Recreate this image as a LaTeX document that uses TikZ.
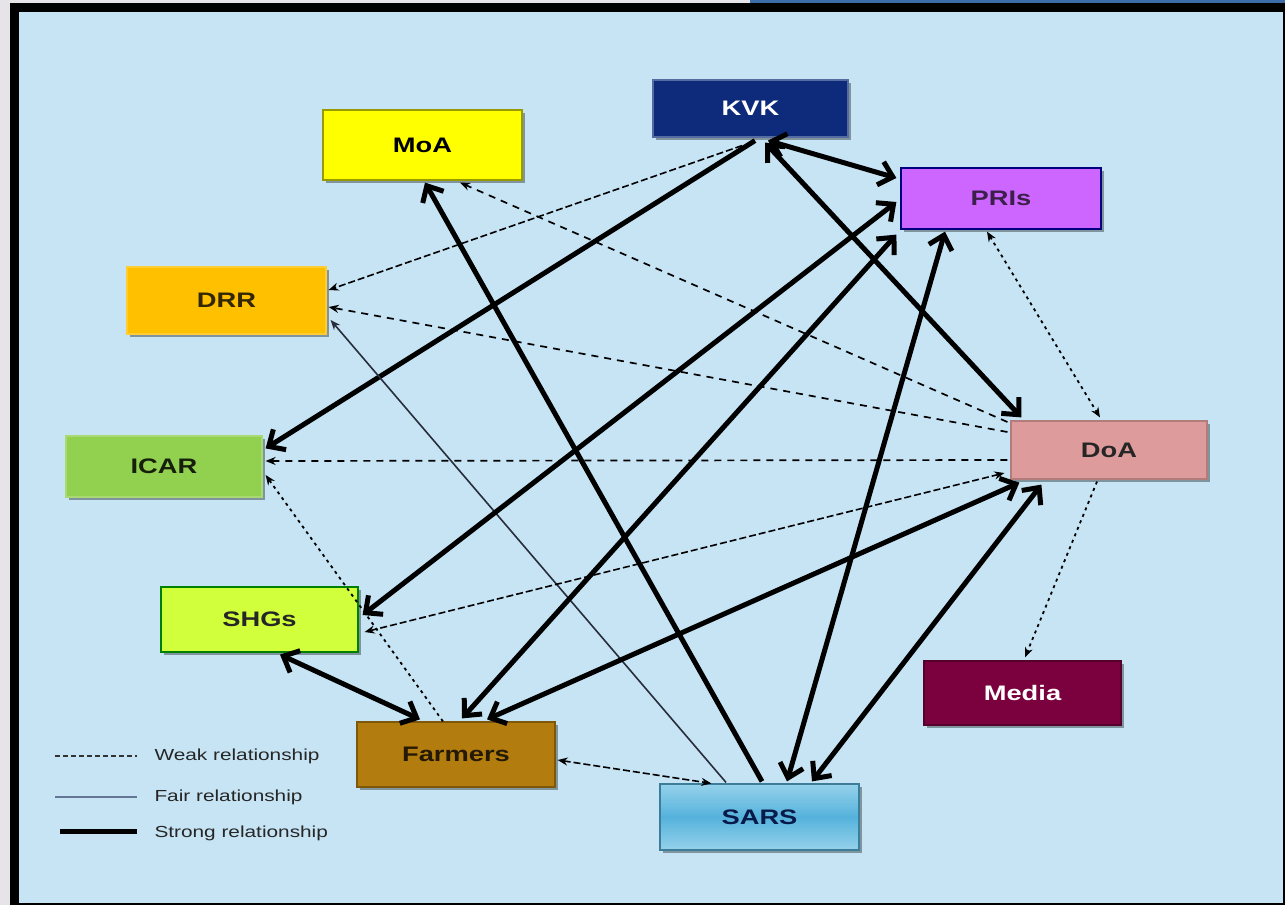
\documentclass[tikz,border=0pt]{standalone}
\usepackage{fontspec}
\setmainfont{Liberation Sans}
\usetikzlibrary{arrows.meta,shadows,calc}
\definecolor{bgblue}{RGB}{198,228,244}
\definecolor{outergray}{RGB}{230,228,232}
\definecolor{topblue}{RGB}{62,110,168}
\definecolor{kvkc}{RGB}{13,43,122}
\definecolor{moac}{RGB}{255,255,0}
\definecolor{prisc}{RGB}{204,102,255}
\definecolor{drrc}{RGB}{255,192,0}
\definecolor{doac}{RGB}{222,155,155}
\definecolor{icarc}{RGB}{146,208,80}
\definecolor{shgsc}{RGB}{210,255,60}
\definecolor{mediac}{RGB}{122,0,62}
\definecolor{farmc}{RGB}{178,124,14}
\definecolor{sarstop}{RGB}{150,210,235}
\definecolor{sarsmid}{RGB}{85,178,220}
\definecolor{fairc}{RGB}{40,45,60}
\newcommand\lbl[1]{\scalebox{1.3}[1]{#1}}
\tikzset{
  Sb/.tip={Straight Barb[length=13pt,width=24pt]},
  Wk/.tip={Stealth[length=10pt,width=8pt]},
  box/.style={rectangle, inner sep=0pt, line width=1.2pt,
    font=\fontsize{21}{21}\selectfont\bfseries,
    drop shadow={shadow xshift=2.5pt,shadow yshift=-2.5pt,fill=black,opacity=0.35}},
  strong/.style={line width=5pt},
  fair/.style={line width=1.6pt, draw=fairc},
  weak/.style={line width=1.7pt, dash pattern=on 7pt off 6pt},
  fdash/.style={line width=1.6pt, dash pattern=on 7pt off 3pt},
  dotw/.style={line width=1.8pt, dash pattern=on 3pt off 4pt},
  legtext/.style={anchor=west, text=black!85, font=\fontsize{16}{16}\selectfont}
}
\begin{document}
\begin{tikzpicture}[x=1pt,y=-1pt]
\useasboundingbox (0,0) rectangle (1285,905);
\fill[outergray] (0,0) rectangle (1285,905);
\fill[topblue] (750,0) rectangle (1285,4);
\fill[black] (10,3) rectangle (1285,905);
\fill[bgblue] (19,12) rectangle (1283,903);

% nodes
\node[box, fill=kvkc, draw=kvkc!70!white, text=white, minimum width=195pt, minimum height=57pt] (kvk) at (750.5,108.5) {\lbl{KVK}};
\node[box, fill=moac, draw=moac!60!black, text=black, minimum width=199pt, minimum height=70pt] (moa) at (422.5,145) {\lbl{MoA}};
\node[box, fill=prisc, draw=blue!50!black, text=prisc!30!black, minimum width=200pt, minimum height=61pt] (pris) at (1001,198.5) {\lbl{PRIs}};
\node[box, fill=drrc, draw=drrc!80!white, text=drrc!20!black, minimum width=199pt, minimum height=67pt] (drr) at (226.5,300.5) {\lbl{DRR}};
\node[box, fill=doac, draw=doac!80!black, text=black!85, minimum width=196pt, minimum height=58pt] (doa) at (1109,450) {\lbl{DoA}};
\node[box, fill=icarc, draw=icarc!80!white, text=icarc!15!black, minimum width=196pt, minimum height=61pt] (icar) at (164,466.5) {\lbl{ICAR}};
\node[box, fill=shgsc, draw=green!50!black, text=black!85, minimum width=197pt, minimum height=65pt] (shgs) at (259.5,619.5) {\lbl{SHGs}};
\node[box, fill=mediac, draw=mediac!70!black, text=white, minimum width=197pt, minimum height=64pt] (media) at (1022.5,693) {\lbl{Media}};
\node[box, fill=farmc, draw=farmc!70!black, text=farmc!20!black, minimum width=198pt, minimum height=65pt] (farmers) at (456,754.5) {\lbl{Farmers}};
\node[box, top color=sarstop, bottom color=sarstop, middle color=sarsmid, draw=sarsmid!70!black, text=kvkc!60!black, minimum width=199pt, minimum height=66pt] (sars) at (759.5,817) {\lbl{SARS}};

% connectors
\draw[strong,{Sb}-{Sb}] ($(kvk.south)+(17.5,3)$) -- ($(pris.west)+(-4,-20.5)$);
\draw[strong,{Sb}-{Sb}] ($(kvk.south)+(14.5,5)$) -- ($(doa.north west)+(11,-3)$);
\draw[strong,-{Sb}] ($(kvk.south)+(4.5,3)$) -- ($(icar.north east)+(3,13)$);
\draw[fdash,-{Wk}] ($(kvk.south)+(-8.5,8)$) -- ($(drr.east)+(2,-10.5)$);
\draw[strong,-{Sb}] ($(sars.north)+(2.5,-2)$) -- ($(moa.south)+(2.5,2)$);
\draw[weak,-{Wk}] ($(doa.west)+(-3,-28)$) -- ($(moa.south)+(37.5,2)$);
\draw[weak,-{Wk}] ($(doa.west)+(-3,-18)$) -- ($(drr.east)+(2,6.5)$);
\draw[fair,-{Wk}] ($(sars.north)+(-33.5,-1)$) -- ($(drr.east)+(4,19.5)$);
\draw[weak,-{Wk}] ($(doa.west)+(-3,10)$) -- ($(icar.east)+(3,-5.5)$);
\draw[dotw,-{Wk}] ($(farmers.north)+(-13,0)$) -- ($(icar.east)+(3,8.5)$);
\draw[strong,{Sb}-{Sb}] ($(pris.west)+(-4,3.5)$) -- ($(shgs.east)+(4,-4.5)$);
\draw[strong,{Sb}-{Sb}] ($(pris.south west)+(-4,5)$) -- ($(farmers.north)+(6,-3)$);
\draw[strong,{Sb}-{Sb}] ($(pris.south)+(-56,2)$) -- ($(sars.north)+(27.5,-2)$);
\draw[dotw,{Wk}-{Wk}] ($(pris.south)+(-14,2)$) -- ($(doa.north)+(-9,-3)$);
\draw[strong,{Sb}-{Sb}] ($(doa.south west)+(9,3)$) -- ($(farmers.north)+(31,-2)$);
\draw[fdash,{Wk}-{Wk}] ($(doa.west)+(-6,23)$) -- ($(shgs.east)+(6,12.5)$);
\draw[strong,{Sb}-{Sb}] ($(doa.south west)+(31,5)$) -- ($(sars.north)+(52.5,-2)$);
\draw[dotw,-{Wk}] ($(doa.south)+(-12,2)$) -- ($(media.north)+(2.5,-3)$);
\draw[strong,{Sb}-{Sb}] ($(shgs.south)+(20.5,2)$) -- ($(farmers.north)+(-36,-2)$);
\draw[fdash,{Wk}-{Wk}] ($(farmers.east)+(2,5.5)$) -- ($(sars.north west)+(52,0)$);

% legend
\coordinate (lw1) at (55,756); \coordinate (lw2) at (137,756);
\coordinate (lf1) at (55,797); \coordinate (lf2) at (137,797);
\coordinate (ls1) at (60,831); \coordinate (ls2) at (137,831);
\draw[line width=1.2pt, dash pattern=on 5pt off 3pt, draw=black!80] (lw1) -- (lw2);
\draw[line width=1.5pt, draw={rgb,255:red,100;green,120;blue,150}] (lf1) -- (lf2);
\draw[line width=5pt] (ls1) -- (ls2);
\node[legtext] (lwt) at (151,756) {\lbl{Weak relationship}};
\node[legtext] (lft) at (151,797) {\lbl{Fair relationship}};
\node[legtext] (lst) at (151,833) {\lbl{Strong relationship}};
\end{tikzpicture}
\end{document}
